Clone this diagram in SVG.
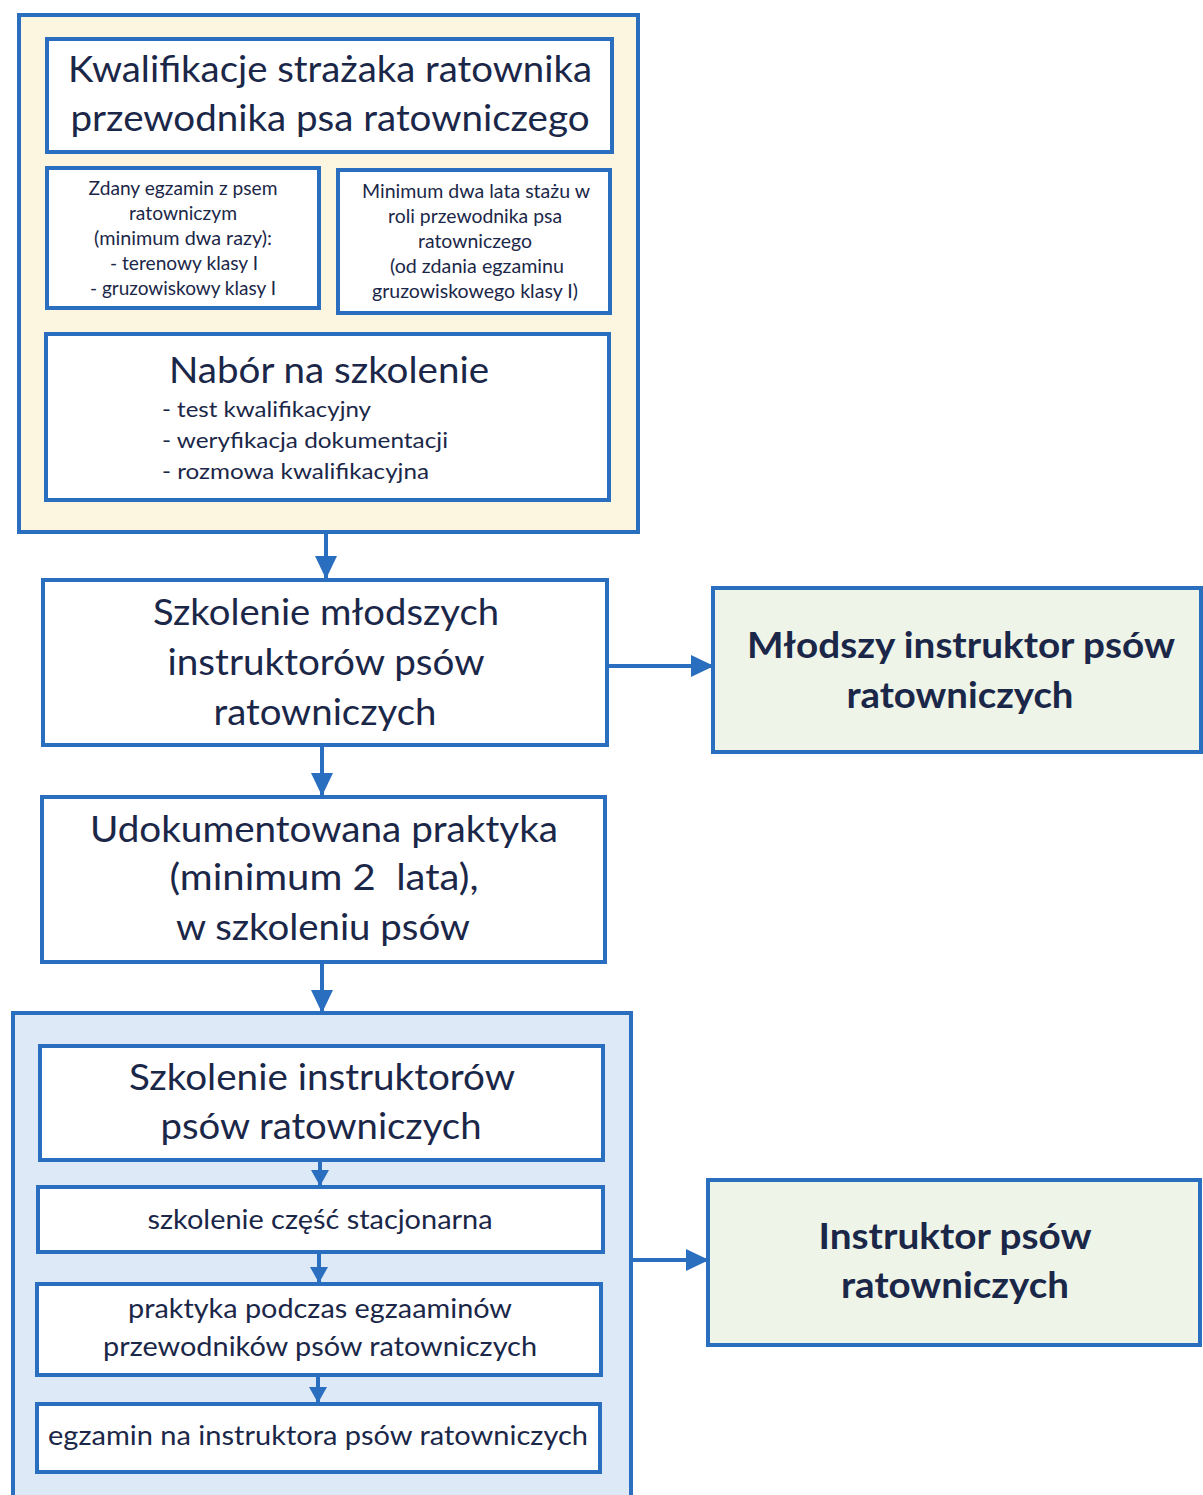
<svg xmlns="http://www.w3.org/2000/svg" width="1203" height="1495" viewBox="0 0 1203 1495">
<style>
.box{fill:#ffffff;stroke:#2a6ebf;stroke-width:4}
.outerY{fill:#fcf6e1;stroke:#2a6ebf;stroke-width:4}
.outerB{fill:#dde9f6;stroke:#2a6ebf;stroke-width:4}
.res{fill:#eef4e7;stroke:#2a6ebf;stroke-width:4}
text{font-family:Lato,"Open Sans","Liberation Sans",sans-serif;fill:#1b2748;text-anchor:middle}
.big{font-size:36px}
.med{font-size:26px}
.sm{font-size:19px}
.bul{font-size:22px;text-anchor:start}
.bold{font-size:36px;font-weight:bold}
.conn{stroke:#2a6ebf;stroke-width:4;fill:none}
</style>
<defs>
<marker id="ah" markerUnits="userSpaceOnUse" markerWidth="24" markerHeight="24" viewBox="0 0 24 24" refX="22" refY="12" orient="auto">
<path d="M0,1 L23,12 L0,23 Z" fill="#2a6ebf"/>
</marker>
<marker id="ahs" markerUnits="userSpaceOnUse" markerWidth="20" markerHeight="20" viewBox="0 0 20 20" refX="15" refY="10" orient="auto">
<path d="M0,1 L16,10 L0,19 Z" fill="#2a6ebf"/>
</marker>
</defs>
<rect width="1203" height="1495" fill="#ffffff"/>

<g id="group-qualifications">
<rect class="outerY" x="19" y="15" width="619" height="517"/>
</g>
<g id="group-instructor-training">
<rect class="outerB" x="13" y="1013" width="618" height="490"/>
</g>

<g id="connectors">
<line class="conn" x1="326" y1="532" x2="326" y2="578" marker-end="url(#ah)"/>
<line class="conn" x1="607" y1="666" x2="713" y2="666" marker-end="url(#ah)"/>
<line class="conn" x1="322" y1="745" x2="322" y2="795" marker-end="url(#ah)"/>
<line class="conn" x1="322" y1="962" x2="322" y2="1012" marker-end="url(#ah)"/>
<line class="conn" x1="320" y1="1160" x2="320" y2="1185" marker-end="url(#ahs)"/>
<line class="conn" x1="319" y1="1252" x2="319" y2="1282" marker-end="url(#ahs)"/>
<line class="conn" x1="318" y1="1375" x2="318" y2="1402" marker-end="url(#ahs)"/>
<line class="conn" x1="631" y1="1260" x2="708" y2="1260" marker-end="url(#ah)"/>
</g>

<g id="node-title">
<rect class="box" x="47" y="39" width="565" height="113"/>
<text class="big" x="330" y="82" textLength="524" lengthAdjust="spacingAndGlyphs">Kwalifikacje strażaka ratownika</text>
<text class="big" x="330" y="131" textLength="519" lengthAdjust="spacingAndGlyphs">przewodnika psa ratowniczego</text>
</g>

<g id="node-exam">
<rect class="box" x="47" y="168" width="272" height="140"/>
<text class="sm" x="183" y="195" textLength="189" lengthAdjust="spacingAndGlyphs">Zdany egzamin z psem</text>
<text class="sm" x="183" y="220" textLength="108" lengthAdjust="spacingAndGlyphs">ratowniczym</text>
<text class="sm" x="183" y="245" textLength="178" lengthAdjust="spacingAndGlyphs">(minimum dwa razy):</text>
<text class="sm" x="184" y="270" textLength="148" lengthAdjust="spacingAndGlyphs">- terenowy klasy I</text>
<text class="sm" x="183" y="295" textLength="186" lengthAdjust="spacingAndGlyphs">- gruzowiskowy klasy I</text>
</g>

<g id="node-seniority">
<rect class="box" x="338" y="170" width="272" height="143"/>
<text class="sm" x="476" y="198" textLength="228" lengthAdjust="spacingAndGlyphs">Minimum dwa lata stażu w</text>
<text class="sm" x="475" y="223" textLength="174" lengthAdjust="spacingAndGlyphs">roli przewodnika psa</text>
<text class="sm" x="475" y="248" textLength="114" lengthAdjust="spacingAndGlyphs">ratowniczego</text>
<text class="sm" x="477" y="273" textLength="174" lengthAdjust="spacingAndGlyphs">(od zdania egzaminu</text>
<text class="sm" x="475" y="298" textLength="206" lengthAdjust="spacingAndGlyphs">gruzowiskowego klasy I)</text>
</g>

<g id="node-recruitment">
<rect class="box" x="46" y="334" width="563" height="166"/>
<text class="big" x="329" y="383" textLength="320" lengthAdjust="spacingAndGlyphs">Nabór na szkolenie</text>
<text class="bul" x="162" y="417" textLength="209" lengthAdjust="spacingAndGlyphs">- test kwalifikacyjny</text>
<text class="bul" x="162" y="448" textLength="286" lengthAdjust="spacingAndGlyphs">- weryfikacja dokumentacji</text>
<text class="bul" x="162" y="479" textLength="267" lengthAdjust="spacingAndGlyphs">- rozmowa kwalifikacyjna</text>
</g>

<g id="node-junior-training">
<rect class="box" x="43" y="580" width="564" height="165"/>
<text class="big" x="326" y="625" textLength="346" lengthAdjust="spacingAndGlyphs">Szkolenie młodszych</text>
<text class="big" x="326" y="675" textLength="317" lengthAdjust="spacingAndGlyphs">instruktorów psów</text>
<text class="big" x="325" y="725" textLength="223" lengthAdjust="spacingAndGlyphs">ratowniczych</text>
</g>

<g id="node-junior-instructor">
<rect class="res" x="713" y="588" width="488" height="164"/>
<text class="bold" x="961" y="658" textLength="428" lengthAdjust="spacingAndGlyphs">Młodszy instruktor psów</text>
<text class="bold" x="960" y="708" textLength="227" lengthAdjust="spacingAndGlyphs">ratowniczych</text>
</g>

<g id="node-practice">
<rect class="box" x="42" y="797" width="563" height="165"/>
<text class="big" x="324" y="842" textLength="468" lengthAdjust="spacingAndGlyphs">Udokumentowana praktyka</text>
<text class="big" x="324" y="890" textLength="309" lengthAdjust="spacingAndGlyphs" xml:space="preserve">(minimum 2  lata),</text>
<text class="big" x="323" y="940" textLength="294" lengthAdjust="spacingAndGlyphs">w szkoleniu psów</text>
</g>

<g id="node-instructor-training">
<rect class="box" x="40" y="1046" width="563" height="114"/>
<text class="big" x="322" y="1090" textLength="386" lengthAdjust="spacingAndGlyphs">Szkolenie instruktorów</text>
<text class="big" x="321" y="1139" textLength="321" lengthAdjust="spacingAndGlyphs">psów ratowniczych</text>
</g>

<g id="node-stationary">
<rect class="box" x="38" y="1187" width="565" height="65"/>
<text class="med" x="320" y="1229" textLength="345" lengthAdjust="spacingAndGlyphs">szkolenie część stacjonarna</text>
</g>

<g id="node-exam-practice">
<rect class="box" x="37" y="1284" width="564" height="91"/>
<text class="med" x="320" y="1318" textLength="384" lengthAdjust="spacingAndGlyphs">praktyka podczas egzaaminów</text>
<text class="med" x="320" y="1356" textLength="434" lengthAdjust="spacingAndGlyphs">przewodników psów ratowniczych</text>
</g>

<g id="node-final-exam">
<rect class="box" x="37" y="1404" width="563" height="68"/>
<text class="med" x="318" y="1445" textLength="540" lengthAdjust="spacingAndGlyphs">egzamin na instruktora psów ratowniczych</text>
</g>

<g id="node-instructor">
<rect class="res" x="708" y="1180" width="492" height="165"/>
<text class="bold" x="955" y="1249" textLength="273" lengthAdjust="spacingAndGlyphs">Instruktor psów</text>
<text class="bold" x="955" y="1298" textLength="228" lengthAdjust="spacingAndGlyphs">ratowniczych</text>
</g>
</svg>
